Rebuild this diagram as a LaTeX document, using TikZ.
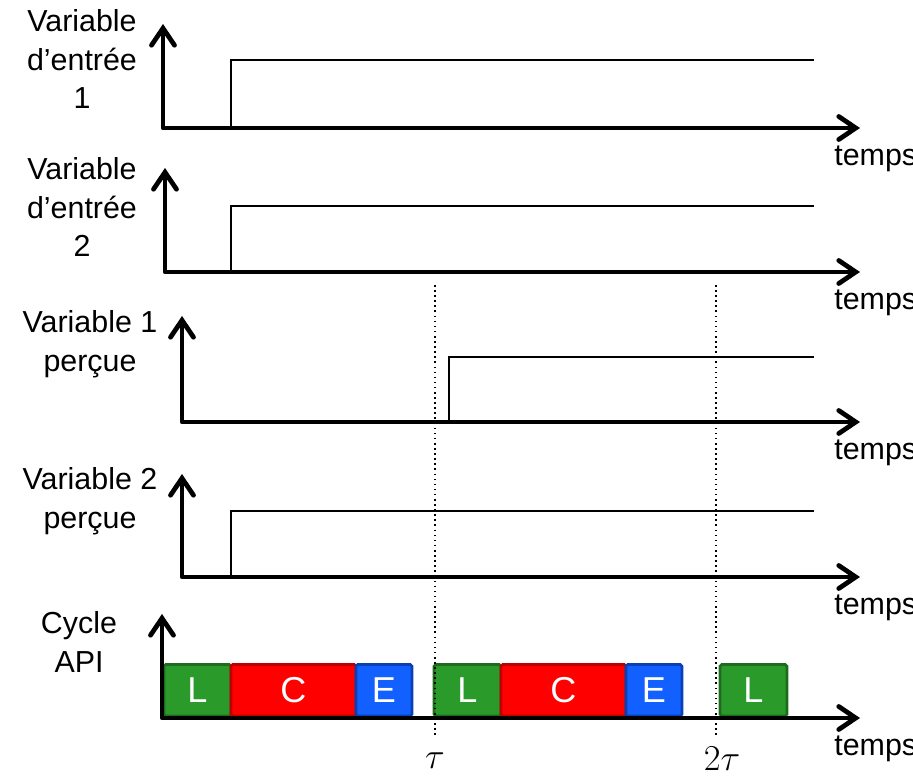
\documentclass[tikz,border=0pt]{standalone}
\usepackage{fontspec}
\setmainfont{Liberation Sans}
\usepackage{tikz}
\usepackage{xcolor}
\usetikzlibrary{arrows.meta,positioning}
\definecolor{lgreen}{HTML}{2A9A2A}
\definecolor{lgreenline}{HTML}{1E6B1E}
\definecolor{cred}{HTML}{FF0000}
\definecolor{credline}{HTML}{C00000}
\definecolor{eblue}{HTML}{1160FF}
\definecolor{ebluline}{HTML}{0A40B5}
\tikzset{
  axis/.style={line width=2.7pt,line cap=round,line join=round,
               {Straight Barb[length=3.4mm,width=4.6mm,line cap=round]}-{Straight Barb[length=3.4mm,width=4.6mm,line cap=round]}},
  signal/.style={line width=1.1pt},
  tick/.style={dotted,line width=0.9pt},
  varlabel/.style={align=center,font=\fontsize{17.3}{22}\selectfont,inner sep=0pt},
  timelabel/.style={anchor=west,font=\fontsize{17.3}{20}\selectfont,inner sep=0pt},
  mathlabel/.style={font=\fontsize{21}{21}\selectfont,inner sep=0pt},
  phase/.style={line width=1.5pt,rounded corners=1pt,minimum height=1.03cm,
                inner sep=0pt,outer sep=0pt,text=white,
                font=\fontsize{20.5}{20.5}\selectfont},
  lphase/.style={phase,draw=lgreenline,fill=lgreen,minimum width=1.34cm},
  cphase/.style={phase,draw=credline,fill=cred,minimum width=2.5cm},
  ephase/.style={phase,draw=ebluline,fill=eblue,minimum width=1.12cm}
}

\begin{document}
\begin{tikzpicture}[x=0.02cm,y=-0.02cm]
  \useasboundingbox (0,0) rectangle (913,776);
  % the four input / perceived signals
  \foreach \n/\ox/\base/\tip/\high/\step/\lx/\ly/\txt in {
      1/163/128/24/60/231/82/59/{Variable\\d’entrée\\1},
      2/165/272/168/206/231/82/207/{Variable\\d’entrée\\2},
      3/182/422/316/357/449/90/344/{Variable 1\\perçue},
      4/182/577/474/511/231/90/501/{Variable 2\\perçue}} {
    \coordinate (o\n) at (\ox,\base);
    \coordinate (y\n) at (\ox,\tip);
    \coordinate (x\n) at (860,\base);
    \draw[axis] (y\n) -- (o\n) -- (x\n);
    \draw[signal] (\step,\base) |- (814,\high);
    \node[varlabel] (lab\n) at (\lx,\ly) {\txt};
    \node[timelabel] (temps\n) at (834,\base+31) {temps};
  }
  % scan cycle of the PLC: read / compute / write
  \coordinate (o5) at (162,718);
  \coordinate (y5) at (162,614);
  \coordinate (x5) at (860,718);
  \node[lphase,anchor=south west] (l1) at (164,716) {L};
  \node[cphase,right=0pt of l1] (c1) {C};
  \node[ephase,right=0pt of c1] (e1) {E};
  \node[lphase,anchor=south west] (l2) at (434,716) {L};
  \node[cphase,right=0pt of l2] (c2) {C};
  \node[ephase,right=0pt of c2] (e2) {E};
  \node[lphase,anchor=south west] (l3) at (720,716) {L};
  \draw[axis] (y5) -- (o5) -- (x5);
  \node[varlabel] (lab5) at (79,642) {Cycle\\API};
  \node[timelabel] (temps5) at (834,749) {temps};
  % period marks
  \node[mathlabel] (tau1) at (435,761) {$\tau$};
  \node[mathlabel] (tau2) at (722,759) {$2\tau$};
  \coordinate (d1) at (435,285);
  \coordinate (d2) at (716,285);
  \draw[tick] (d1) -- (d1 |- 0,738);
  \draw[tick] (d2) -- (d2 |- 0,738);
\end{tikzpicture}
\end{document}
